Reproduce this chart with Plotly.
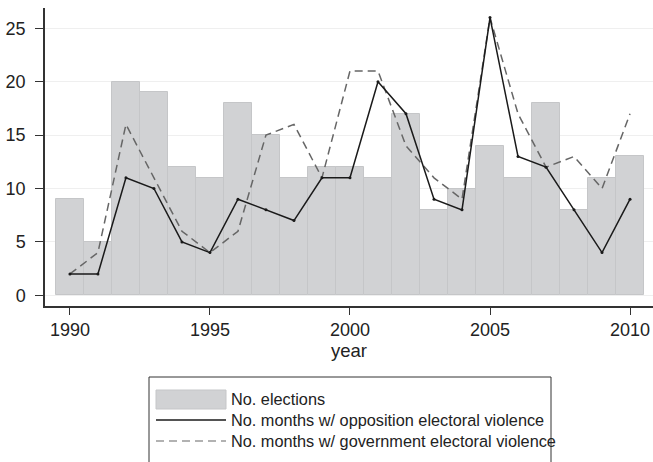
import plotly.graph_objects as go

years = list(range(1990, 2011))
elections = [9, 5, 20, 19, 12, 11, 18, 15, 11, 12, 12, 11, 17, 8, 10, 14, 11, 18, 8, 11, 13]
opposition = [2, 2, 11, 10, 5, 4, 9, 8, 7, 11, 11, 20, 17, 9, 8, 26, 13, 12, 8, 4, 9]
government = [2, 4, 16, 11, 6, 4, 6, 15, 16, 11, 21, 21, 14, 11, 9, 26, 17, 12, 13, 10, 17]

y_ticks = [0, 5, 10, 15, 20, 25]
x_ticks = [1990, 1995, 2000, 2005, 2010]

legend_labels = ["No. elections",
                 "No. months w/ opposition electoral violence",
                 "No. months w/ government electoral violence"]

W, H = 653, 462
L, R, T, B = 45, 0, 8, 156
FONT = "Liberation Sans, Arial, Helvetica, sans-serif"
BAR_FILL = "#d1d2d4"
BAR_LINE = "#c5c6c8"
GOV_COLOR = "#666666"
OPP_COLOR = "#1a1a1a"

fig = go.Figure()
fig.add_trace(go.Bar(x=years, y=elections, width=1,
                     marker=dict(color=BAR_FILL, line=dict(color=BAR_LINE, width=1)),
                     name=legend_labels[0], showlegend=False))
fig.add_trace(go.Scatter(x=years, y=government, mode="lines",
                         line=dict(color=GOV_COLOR, width=1.5, dash="8px,5px"),
                         name=legend_labels[2], showlegend=False))
fig.add_trace(go.Scatter(x=years, y=opposition, mode="lines+markers",
                         line=dict(color=OPP_COLOR, width=1.5),
                         marker=dict(color=OPP_COLOR, size=3),
                         name=legend_labels[1], showlegend=False))

pw = W - L - R
ph = H - T - B


def px(x):
    return (x - L) / pw


def py(y):
    return (H - B - y) / ph


shapes = [
    dict(type="rect", xref="paper", yref="paper", x0=px(149), x1=px(551), y0=py(377), y1=py(475),
         line=dict(color="#333333", width=1), fillcolor="rgba(0,0,0,0)"),
    dict(type="rect", xref="paper", yref="paper", x0=px(156), x1=px(226), y0=py(390), y1=py(409),
         line=dict(color=BAR_LINE, width=1), fillcolor=BAR_FILL),
    dict(type="line", xref="paper", yref="paper", x0=px(156), x1=px(226), y0=py(420), y1=py(420),
         line=dict(color=OPP_COLOR, width=1.5)),
    dict(type="line", xref="paper", yref="paper", x0=px(156), x1=px(226), y0=py(441), y1=py(441),
         line=dict(color=GOV_COLOR, width=1.2, dash="8px,5px")),
]
annotations = []
for lab, yy in zip(legend_labels, [399, 420, 441]):
    annotations.append(dict(text=lab, xref="paper", yref="paper", x=px(229), y=py(yy),
                            xanchor="left", yanchor="middle", showarrow=False,
                            font=dict(size=16.3, color="#222222", family=FONT)))

fig.update_layout(
    width=W, height=H,
    margin=dict(l=L, r=R, t=T, b=B, pad=0),
    plot_bgcolor="white", paper_bgcolor="white",
    font=dict(family=FONT, size=18, color="#222222"),
    bargap=0,
    shapes=shapes, annotations=annotations,
    showlegend=False,
    xaxis=dict(range=[1989.11, 2010.82], tickvals=x_ticks, ticks="outside", ticklen=7,
               tickwidth=1.3, tickcolor="#333333", showline=True, linecolor="#333333", linewidth=1.5,
               showgrid=False, zeroline=False,
               title=dict(text="year", standoff=4, font=dict(size=18.5)),
               tickfont=dict(size=18), automargin=False),
    yaxis=dict(range=[-1.0, 26.9], tickvals=y_ticks, ticks="outside", ticklen=8,
               tickwidth=1.3, tickcolor="#333333", showline=True, linecolor="#333333", linewidth=1.5,
               showgrid=True, gridcolor="#efefef", gridwidth=1, zeroline=False,
               ticklabelstandoff=6, tickfont=dict(size=18), automargin=False),
)

fig.write_html("out.html", config={"displayModeBar": False},
               post_script="document.body.style.margin='0';document.body.style.overflow='hidden';")
